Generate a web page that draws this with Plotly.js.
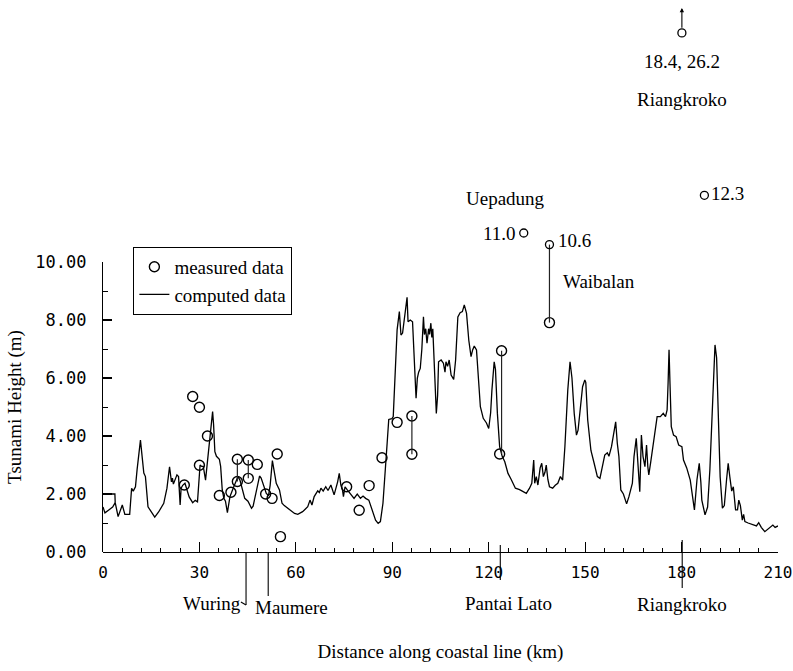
<!DOCTYPE html>
<html>
<head>
<meta charset="utf-8">
<script src="https://cdn.plot.ly/plotly-3.0.1.min.js"></script>
<style>html,body{margin:0;padding:0;background:#fff;}#chart{width:793px;height:671px;}</style>
</head>
<body>
<div id="chart"></div>
<script>
// Computed tsunami height along the coast (km, m); null marks a break in the line
const computedKm = [0,3.7,3.8,null,0,0.6,1.8,3.0,3.8,4.7,6.0,6.8,8.3,8.9,9.4,10.1,10.6,11.65,12.7,13.2,14.0,16.1,17.3,18.9,19.9,20.7,21.3,21.6,21.9,23.0,23.5,24.0,24.3,24.8,25.5,26.3,26.8,27.9,28.7,29.4,29.7,30.2,30.7,31.2,31.9,32.2,32.8,33.3,33.8,34.1,34.4,34.8,35.3,36.2,36.6,37.1,37.6,38.1,38.7,39.5,40.5,41.0,41.5,42.0,42.6,43.4,44.1,45.1,46.2,46.7,47.2,48.2,48.7,49.2,50.0,50.8,51.5,52.0,52.7,53.2,53.9,54.9,55.7,56.4,57.5,58.5,59.6,60.6,62.1,63.7,64.4,65.0,65.7,66.8,67.3,67.8,68.5,69.3,70.0,70.9,71.9,73.0,73.5,74.0,74.5,74.8,75.3,76.0,77.1,78.1,79.1,80.1,80.9,81.7,82.7,83.8,84.8,85.6,86.3,87.1,87.7,88.4,88.9,89.9,90.3,91.0,91.5,92.2,92.7,93.2,93.9,94.3,94.6,94.9,95.6,96.3,97.0,97.4,97.8,98.2,98.7,99.2,99.7,100.0,100.4,100.8,101.3,101.6,102.0,102.3,102.6,103.0,103.7,104.1,104.4,105.2,105.9,106.4,106.7,107.2,107.7,108.3,109.1,109.7,110.4,111.1,111.8,112.4,113.1,113.8,114.5,115.0,115.5,116.2,116.7,117.4,118.3,119.3,120.0,120.6,121.0,121.7,122.1,122.7,123.4,124.2,125.0,126.0,127.0,128.3,129.6,130.7,131.7,132.7,133.4,134.0,134.3,134.8,135.3,136.0,136.5,137.0,137.5,137.9,138.4,138.9,139.9,140.7,141.5,142.3,143.0,143.7,144.6,145.3,145.9,146.6,147.3,147.8,148.4,149.2,149.9,150.2,150.8,151.8,152.8,153.8,154.6,155.4,156.1,156.9,157.4,158.2,158.8,159.5,160.0,160.5,161.1,161.9,162.9,163.6,164.7,165.2,165.9,166.4,167.0,167.5,168.0,168.6,169.1,169.5,169.8,170.4,171.1,171.9,172.4,173.4,174.3,175.0,175.5,175.8,176.1,176.4,176.8,177.5,178.3,179.1,180.1,180.6,181.6,182.7,183.5,184.0,184.8,185.5,186.0,186.3,187.3,188.1,188.8,189.6,190.1,190.4,190.9,191.4,192.0,192.7,193.3,194.0,194.5,195.0,195.6,196.1,196.4,196.8,197.4,197.8,198.3,198.9,199.3,199.7,200.7,202.3,203.3,204.0,204.8,205.9,206.9,207.7,208.4,209.1,210.0];
const computedHeight = [2.0,2.0,1.7,null,1.55,1.35,1.45,1.55,1.7,1.22,1.62,1.3,1.3,2.2,2.1,2.25,2.83,3.86,2.72,2.6,1.56,1.2,1.38,1.68,2.2,2.94,2.42,2.55,2.34,2.66,2.6,1.62,2.2,2.3,2.37,2.02,1.9,1.7,1.78,1.73,2.31,3.0,2.95,2.95,2.48,2.8,3.52,3.98,4.55,4.84,4.4,3.46,3.3,3.2,2.95,2.14,1.85,1.75,1.36,1.91,2.2,2.35,2.48,2.6,2.48,2.14,1.85,1.75,1.51,1.58,1.85,2.3,2.62,2.55,2.31,2.02,1.95,2.3,3.15,2.85,2.37,2.14,1.68,1.6,1.51,1.45,1.33,1.3,1.39,1.56,1.79,1.62,1.91,2.11,2.05,2.2,2.1,2.25,2.12,2.31,1.97,2.42,2.71,2.31,2.14,1.91,2.25,2.14,1.97,1.85,2.0,1.85,1.93,1.85,1.79,1.45,1.1,0.99,1.05,1.68,2.83,3.75,4.57,4.6,4.67,6.16,7.66,8.29,7.48,7.55,8.23,8.5,8.78,7.94,8.0,7.94,6.51,5.3,6.0,6.2,6.33,7.0,8.11,7.5,7.7,7.2,7.7,7.5,7.89,7.4,7.7,6.74,4.78,5.4,6.56,6.62,6.51,6.2,6.56,6.4,6.62,6.1,5.95,6.62,8.11,8.25,8.29,8.52,8.23,7.3,6.74,6.97,7.1,6.97,6.16,5.01,4.61,4.45,4.26,4.8,5.59,6.56,6.3,4.78,3.63,3.3,3.11,2.71,2.5,2.2,2.15,2.08,2.02,2.2,2.37,3.17,2.37,2.6,2.31,2.9,3.06,2.6,2.75,3.0,2.5,2.25,2.2,2.3,2.37,2.6,2.48,3.63,5.59,6.56,6.0,4.78,4.03,4.2,4.9,5.7,5.93,5.85,4.55,3.5,3.06,2.6,2.54,3.0,3.34,3.42,3.3,3.63,4.0,4.49,3.75,3.3,2.14,2.0,1.66,1.9,2.37,3.29,3.92,2.95,2.08,4.03,3.3,2.94,3.69,2.94,2.66,3.1,3.6,4.32,4.67,4.67,4.78,4.67,4.9,5.8,6.97,5.8,4.32,4.03,3.98,3.69,3.63,3.17,2.9,2.48,1.9,1.45,2.5,3.06,2.4,1.79,1.28,1.55,2.83,4.9,6.2,7.14,6.7,4.67,2.6,1.51,1.6,2.5,3.06,2.6,2.1,2.25,1.9,1.45,1.45,1.79,1.6,1.1,1.3,1.05,1.0,0.93,0.9,1.01,0.85,0.7,0.8,0.85,0.93,0.85,0.9];

// Measured run-up heights
const measuredKm = [25.3,27.9,30.0,30.0,32.5,36.2,39.8,41.8,41.8,45.2,45.2,48.0,50.6,52.6,54.2,55.2,75.8,79.7,82.8,86.8,91.5,96.1,96.1,123.4,124.0,138.9];
const measuredHeight = [2.31,5.36,4.99,2.99,4.0,1.95,2.06,3.2,2.43,3.17,2.54,3.02,2.0,1.85,3.38,0.53,2.25,1.44,2.29,3.25,4.47,4.69,3.37,3.38,6.94,7.91];

// Labelled high measurements (drawn above the axis)
const highKm = [130.9,138.9,187.1,180.1];
const highHeight = [11.0,10.6,12.3,17.9];
const highLabels = ['11.0','10.6','12.3','18.4, 26.2'];

// Pairs of measurements at the same place joined by a line
const pairKm = [41.8,45.2,96.1,124.0,138.9];
const pairTop = [3.2,3.17,4.69,6.94,10.6];
const pairBottom = [2.43,2.54,3.37,3.38,7.91];

// Place names
const placeKm = [44.5,51.4,123.6,180.2];
const placeNames = ['Wuring','Maumere','Pantai Lato','Riangkroko'];

const yTickVals = [0,2,4,6,8,10];

const serif = 'Liberation Serif, Times New Roman, serif';
const mono = 'DejaVu Sans Mono, monospace';

const pairX = [], pairY = [];
pairKm.forEach((k,i)=>{ pairX.push(k,k,null); pairY.push(pairTop[i],pairBottom[i],null); });

const traces = [
  {x: measuredKm, y: measuredHeight, type:'scatter', mode:'markers', name:'measured data',
   marker:{symbol:'circle-open', size:10, color:'#000', line:{width:1.4, color:'#000'}}, cliponaxis:false},
  {x: computedKm, y: computedHeight, type:'scatter', mode:'lines', name:'computed data',
   line:{color:'#000', width:1.3}, connectgaps:false},
  {x: pairX, y: pairY, type:'scatter', mode:'lines', showlegend:false, hoverinfo:'skip',
   line:{color:'#222', width:1.2}},
  {x: highKm, y: highHeight, type:'scatter', mode:'markers', showlegend:false, cliponaxis:false,
   marker:{symbol:'circle-open', size:8, color:'#000', line:{width:1.3, color:'#000'}}},
  // empty trace so that the height scale (yaxis2) is drawn
  {x: [], y: [], type:'scatter', mode:'markers', yaxis:'y2', showlegend:false, hoverinfo:'skip'}
];

const H0 = 552, PX = 29, plotH = 542;
function paperY(py){ return (H0 - py)/plotH; }

const annotations = [
  {x: highKm[0], y: highHeight[0], text: highLabels[0], xanchor:'right', yanchor:'middle', xshift:-6, showarrow:false},
  {x: highKm[1], y: highHeight[1], text: highLabels[1], xanchor:'left', yanchor:'middle', xshift:7, yshift:4, showarrow:false},
  {x: highKm[2], y: highHeight[2], text: highLabels[2], xanchor:'left', yanchor:'middle', xshift:5, yshift:2, showarrow:false},
  {x: highKm[3], y: highHeight[3], text: highLabels[3], xanchor:'center', yanchor:'top', yshift:-16, showarrow:false},
  {x: highKm[3], y: highHeight[3], text: 'Riangkroko', xanchor:'center', yanchor:'top', yshift:-54, showarrow:false},
  {x: 125.1, y: 12.2, text:'Uepadung', xanchor:'center', yanchor:'middle', showarrow:false},
  {x: 142.5, y: 9.32, text:'Waibalan', xanchor:'left', yanchor:'middle', showarrow:false},
  {x: highKm[3], y: 18.76, ax: highKm[3], ay: highHeight[3]+0.13, axref:'x', ayref:'y', text:'', showarrow:true,
   arrowhead:2, arrowsize:0.8, arrowwidth:1.1, arrowcolor:'#000', standoff:0, startstandoff:0},
  {x: placeKm[0]-0.9, y: paperY(603), yref:'paper', text: placeNames[0], xanchor:'right', yanchor:'middle', showarrow:false},
  {x: placeKm[1]-4.6, y: paperY(607), yref:'paper', text: placeNames[1], xanchor:'left', yanchor:'middle', showarrow:false},
  {x: placeKm[2]+2.6, y: paperY(603), yref:'paper', text: placeNames[2], xanchor:'center', yanchor:'middle', showarrow:false},
  {x: placeKm[3], y: paperY(604), yref:'paper', text: placeNames[3], xanchor:'center', yanchor:'middle', showarrow:false}
].map(a => Object.assign({font:{family:serif, size:19, color:'#000'}}, a));

const lineStyle = {color:'#000', width:1.1};
const shapes = [
  {type:'line', xref:'x', yref:'paper', x0:placeKm[0], x1:placeKm[0], y0:paperY(553), y1:paperY(605), line:lineStyle},
  {type:'line', xref:'x', yref:'paper', x0:placeKm[0], x1:placeKm[0]-1.6, y0:paperY(605), y1:paperY(602), line:lineStyle},
  {type:'line', xref:'x', yref:'paper', x0:placeKm[1], x1:placeKm[1], y0:paperY(553), y1:paperY(596), line:lineStyle},
  {type:'line', xref:'x', yref:'paper', x0:placeKm[2], x1:placeKm[2], y0:paperY(545), y1:paperY(580), line:lineStyle},
  {type:'line', xref:'x', yref:'paper', x0:placeKm[3], x1:placeKm[3], y0:paperY(540), y1:paperY(588), line:lineStyle}
];

const layout = {
  width:793, height:671,
  margin:{l:103, r:15, t:10, b:119},
  paper_bgcolor:'#fff', plot_bgcolor:'rgba(0,0,0,0)',
  showlegend:true,
  legend:{x:0.045, y:0.563, xanchor:'left', yanchor:'top', bgcolor:'#fff', bordercolor:'#000', borderwidth:1,
          font:{family:serif, size:19, color:'#000'}, itemwidth:30, tracegroupgap:0},
  xaxis:{range:[0,210], domain:[0,1], anchor:'y', showline:true, linecolor:'#000', linewidth:1.2,
         ticks:'inside', ticklen:10, tickwidth:1.2, tickcolor:'#000', tick0:0, dtick:30,
         minor:{dtick:6, ticks:'inside', ticklen:4, tickcolor:'#000', tickwidth:1, showgrid:false},
         showgrid:false, zeroline:false, ticklabelstandoff:6, ticklabeloverflow:'allow',
         tickfont:{family:mono, size:16, color:'#000'},
         title:{text:'Distance along coastal line (km)', font:{family:serif, size:19, color:'#000'}, standoff:63}},
  yaxis:{range:[0, plotH/PX], domain:[0,1], anchor:'x', visible:false, fixedrange:true},
  yaxis2:{range:[0,10], domain:[0, 10*PX/plotH], anchor:'x', showline:true, linecolor:'#000', linewidth:1.2,
          ticks:'inside', ticklen:9, tickwidth:1.2, tickcolor:'#000', tickvals:yTickVals,
          ticktext:yTickVals.map(v=>v.toFixed(2)),
          minor:{dtick:1, ticks:'inside', ticklen:5, tickcolor:'#000', tickwidth:1, showgrid:false},
          showgrid:false, zeroline:false, ticklabelstandoff:12,
          tickfont:{family:mono, size:17, color:'#000'},
          title:{text:'Tsunami Height (m)', font:{family:serif, size:19, color:'#000'}, standoff:8}},
  annotations: annotations,
  shapes: shapes
};

Plotly.newPlot('chart', traces, layout, {displayModeBar:false, staticPlot:true});
</script>
</body>
</html>
